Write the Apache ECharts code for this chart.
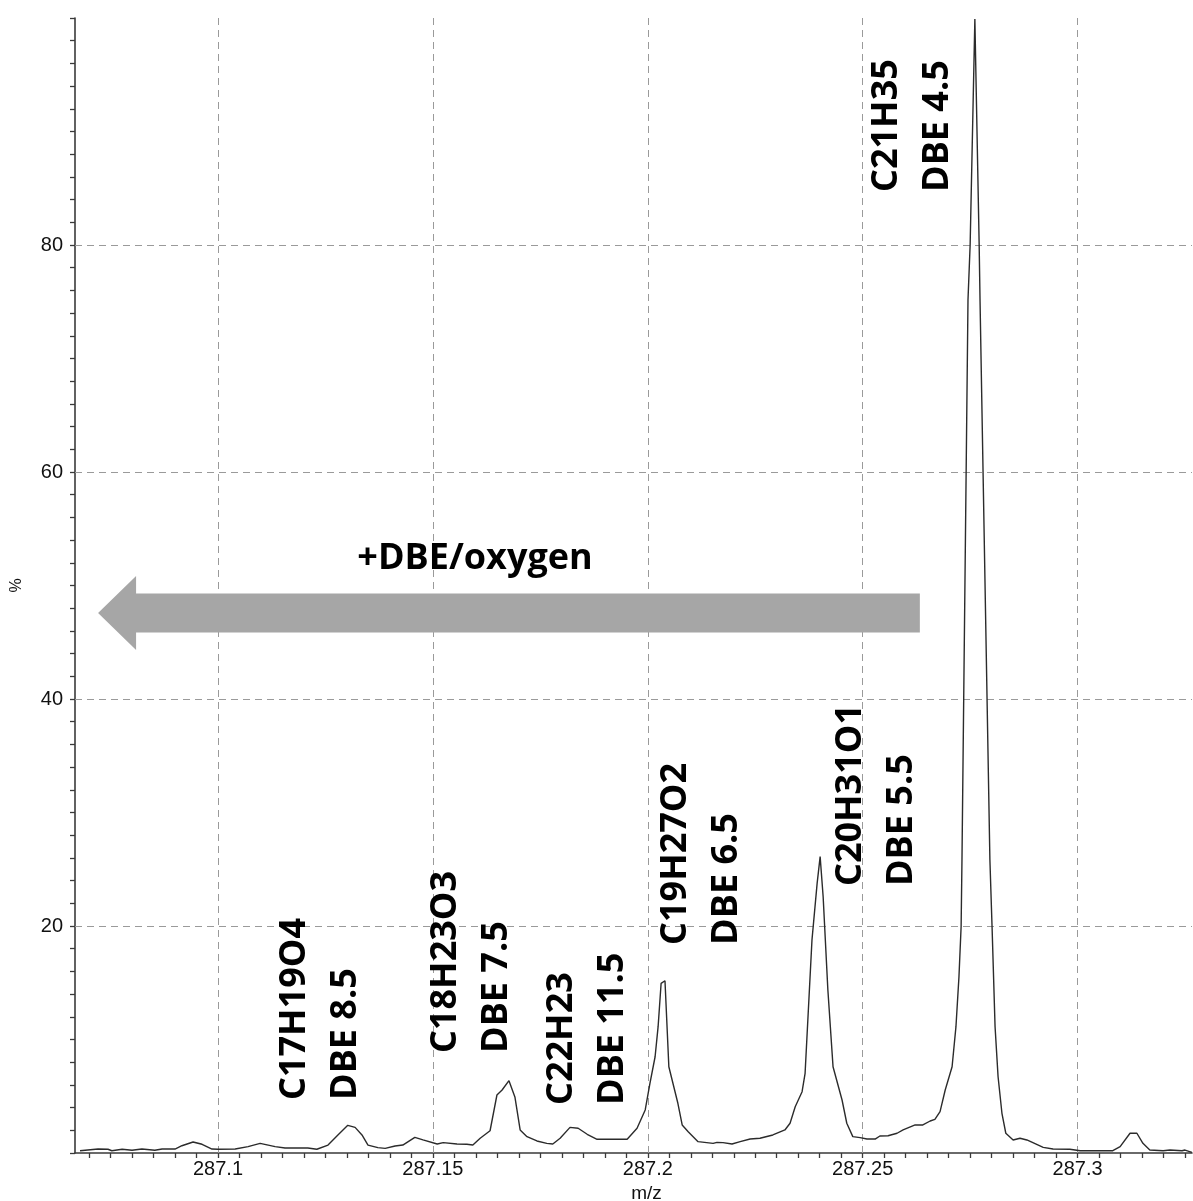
<!DOCTYPE html>
<html><head><meta charset="utf-8">
<script src="https://cdn.jsdelivr.net/npm/echarts@6/dist/echarts.min.js"></script>
<style>html,body{margin:0;padding:0;background:#fff}#c{width:1193px;height:1201px}</style>
</head><body><div id="c"></div>
<script>
// ---- data ----
const mz = [287.0679,287.0721,287.0744,287.0753,287.0777,287.0800,287.0823,287.0853,287.0870,287.0900,
287.0916,287.0942,287.0963,287.0986,287.1000,287.1040,287.1070,287.1098,287.1133,287.1156,
287.1209,287.1230,287.1256,287.1279,287.1302,287.1319,287.1335,287.1349,287.1372,287.1389,
287.1412,287.1430,287.1458,287.1477,287.1510,287.1524,287.1556,287.1579,287.1593,287.1610,
287.1633,287.1649,287.1661,287.1677,287.1691,287.1703,287.1719,287.1742,287.1765,287.1779,
287.1796,287.1819,287.1838,287.1859,287.1882,287.1928,287.1952,287.1975,287.1994,287.2005,
287.2017,287.2024,287.2031,287.2040,287.2049,287.2070,287.2080,287.2094,287.2117,287.2152,
287.2161,287.2175,287.2196,287.2215,287.2238,287.2261,287.2291,287.2319,287.2331,287.2343,
287.2359,287.2366,287.2382,287.2394,287.2401,287.2408,287.2419,287.2431,287.2452,287.2463,
287.2477,287.2494,287.2510,287.2529,287.2540,287.2559,287.2580,287.2594,287.2622,287.2640,
287.2657,287.2668,287.2680,287.2692,287.2708,287.2717,287.2724,287.2729,287.2731,287.2745,
287.2750,287.2761,287.2771,287.2773,287.2796,287.2801,287.2808,287.2815,287.2824,287.2833,
287.2850,287.2866,287.2882,287.2896,287.2920,287.2943,287.2982,287.3006,287.3082,287.3099,
287.3122,287.3138,287.3152,287.3168,287.3199,287.3215,287.3243,287.3250,287.3266];
const intensity = [0.20,0.35,0.33,0.20,0.33,0.24,0.35,0.24,0.35,0.35,
0.64,0.97,0.77,0.35,0.33,0.35,0.56,0.85,0.56,0.44,
0.44,0.33,0.70,1.59,2.44,2.26,1.59,0.70,0.47,0.41,
0.62,0.70,1.38,1.15,0.79,0.91,0.79,0.77,0.70,1.30,
1.96,5.11,5.55,6.37,4.91,2.03,1.44,1.06,0.85,0.79,
1.30,2.26,2.18,1.65,1.21,1.21,1.21,2.18,3.79,6.14,
8.48,11.13,14.95,15.18,7.60,4.38,2.47,1.88,1.00,0.85,
0.94,0.91,0.79,1.00,1.23,1.30,1.59,2.03,2.62,4.08,
5.40,7.02,18.77,23.76,26.11,22.58,14.36,7.60,4.67,2.62,
1.44,1.35,1.23,1.23,1.50,1.52,1.74,2.03,2.47,2.47,
2.82,2.97,3.64,5.55,7.60,11.13,15.53,19.94,25.81,75.15,
80.0,99.9,80.0,75.15,25.81,19.94,11.13,6.72,3.50,1.74,
1.15,1.30,1.15,0.91,0.50,0.35,0.33,0.20,0.20,0.56,
1.74,1.74,0.85,0.26,0.20,0.26,0.20,0.26,0.05];

const xTickLabels = [287.1, 287.15, 287.2, 287.25, 287.3];
const yTickLabels = [20, 40, 60, 80];

const labelMz   = [287.1237, 287.1589, 287.1860, 287.2124, 287.2532, 287.2616];
const labelInt  = [4.67, 8.81, 4.23, 18.33, 23.52, 84.67];
const labelText = ['C17H19O4\nDBE 8.5', 'C18H23O3\nDBE 7.5', 'C22H23\nDBE 11.5',
                   'C19H27O2\nDBE 6.5', 'C20H31O1\nDBE 5.5', 'C21H35\nDBE 4.5'];

const arrowTailMz = 287.2633, arrowTipMz = 287.0721, arrowInt = 47.58;
const arrowText = '+DBE/oxygen', arrowTextMz = 287.1598, arrowTextInt = 52.33;

// ---- axis scaffolding ----
const X_MIN = 287.06673, X_MAX = 287.32662;
const xMinorTicks = [];
for (let k = Math.ceil(X_MIN / 0.005); k * 0.005 <= X_MAX; k++) xMinorTicks.push(+(k * 0.005).toFixed(3));
const yMinorTicks = [];
for (let v = 0; v <= 100; v += 2) yMinorTicks.push(v);

const chart = echarts.init(document.getElementById('c'), null, {renderer: 'canvas'});
const axisCol = '#3a3a3a';
const gridStyle = {color: '#9a9a9a', width: 1, type: [7, 5]};

chart.setOption({
  animation: false,
  backgroundColor: '#fff',
  grid: {left: 75, top: 18, right: 1, bottom: 48, containLabel: false, outerBoundsMode: 'none'},
  xAxis: {
    type: 'value', min: X_MIN, max: X_MAX,
    name: 'm/z', nameLocation: 'middle', nameGap: 26,
    nameTextStyle: {fontFamily: 'Liberation Sans', fontSize: 19, color: '#111', padding: [0, 0, 0, 26]},
    axisLine: {show: true, onZero: false, lineStyle: {color: axisCol, width: 1.6}},
    axisTick: {show: true, customValues: xMinorTicks, length: 5, lineStyle: {color: axisCol, width: 1.3}},
    axisLabel: {show: true, customValues: xTickLabels, margin: 6, fontFamily: 'Liberation Sans', fontSize: 20, color: '#111',
      formatter: v => String(+v.toFixed(3))},
    splitLine: {show: false}
  },
  yAxis: {
    type: 'value', min: 0, max: 100,
    name: '%', nameLocation: 'middle', nameGap: 50, nameRotate: 90,
    nameTextStyle: {fontFamily: 'Liberation Sans', fontSize: 16, color: '#111'},
    axisLine: {show: true, onZero: false, lineStyle: {color: axisCol, width: 1.6}},
    axisTick: {show: true, customValues: yMinorTicks, length: 5, lineStyle: {color: axisCol, width: 1.3}},
    axisLabel: {show: true, customValues: yTickLabels, margin: 12, fontFamily: 'Liberation Sans', fontSize: 20, color: '#111'},
    splitLine: {show: false}
  },
  series: [{
    type: 'line',
    data: mz.map((x, i) => [x, intensity[i]]),
    showSymbol: false, symbol: 'none', silent: true,
    lineStyle: {color: '#2b2b2b', width: 1.4},
    z: 3,
    markLine: {
      silent: true, symbol: ['none', 'none'], label: {show: false},
      lineStyle: gridStyle, z: 1,
      data: xTickLabels.map(v => ({xAxis: v})).concat(yTickLabels.map(v => ({yAxis: v})))
    }
  }]
});

// ---- annotations placed through the chart's scales ----
const px = (x, y) => chart.convertToPixel({gridIndex: 0}, [x, y]);
const graphics = [];
const tip = px(arrowTipMz, arrowInt), tail = px(arrowTailMz, arrowInt);
const headLen = 38, headHalf = 37, shaftHalf = 19.5;
graphics.push({
  type: 'polygon', z: 10, silent: true,
  shape: {points: [
    [tip[0], tip[1]],
    [tip[0] + headLen, tip[1] - headHalf],
    [tip[0] + headLen, tip[1] - shaftHalf],
    [tail[0], tail[1] - shaftHalf],
    [tail[0], tail[1] + shaftHalf],
    [tip[0] + headLen, tip[1] + shaftHalf],
    [tip[0] + headLen, tip[1] + headHalf]
  ]},
  style: {fill: '#a6a6a6'}
});
const at = px(arrowTextMz, arrowTextInt);
graphics.push({
  type: 'text', x: at[0], y: at[1], z: 11, silent: true,
  style: {text: arrowText, fill: '#000', fontFamily: 'Open Sans', fontWeight: 'bold', fontSize: 36,
    align: 'center', verticalAlign: 'middle'}
});
labelText.forEach((t, i) => {
  const p = px(labelMz[i], labelInt[i]);
  graphics.push({
    type: 'text', x: p[0], y: p[1], rotation: Math.PI / 2, z: 11, silent: true,
    style: {text: t, fill: '#000', fontFamily: 'Open Sans', fontWeight: 'bold', fontSize: 36,
      lineHeight: 51, align: 'left', verticalAlign: 'middle'}
  });
});
chart.setOption({graphic: graphics});
</script>
</body></html>
